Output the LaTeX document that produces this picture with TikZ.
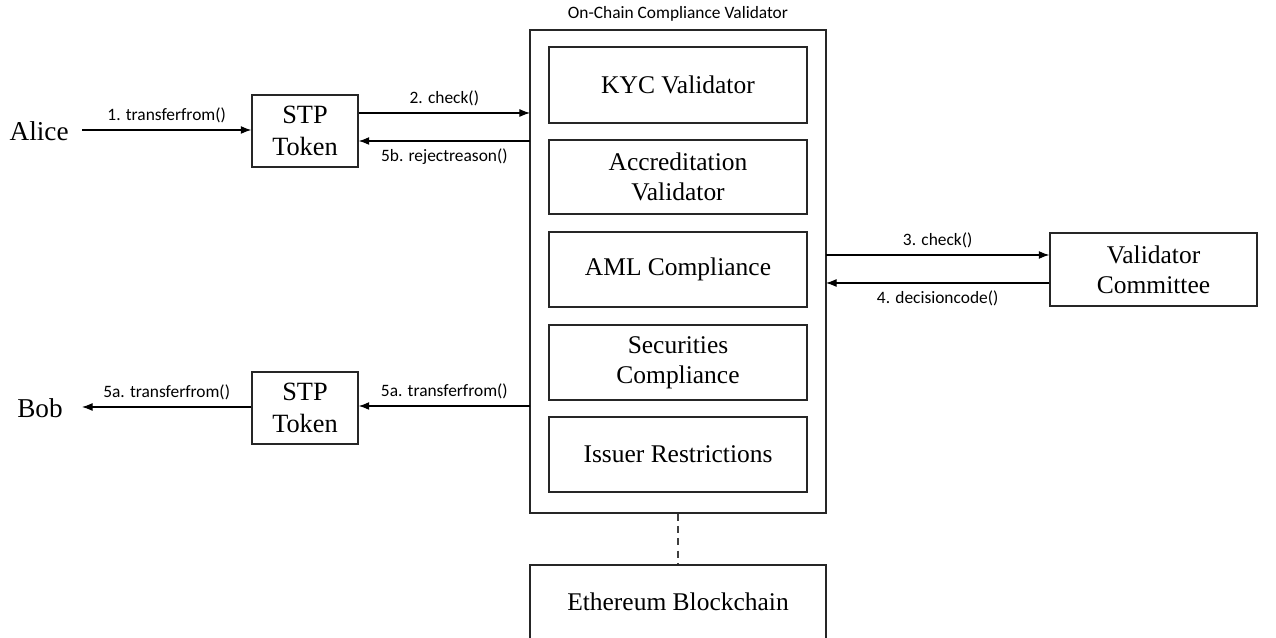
\documentclass[tikz,border=0pt]{standalone}
\usepackage{fontspec}
\setmainfont{Liberation Serif}
\newfontfamily\lblfont{Carlito}
\usetikzlibrary{arrows.meta}
\begin{document}
\begin{tikzpicture}[x=0.02cm,y=-0.02cm,
  box/.style={draw=black!85, line width=0.75pt, inner sep=0pt, align=center, font=\fontsize{14.5}{17}\selectfont},
  lbl/.style={font=\lblfont\fontsize{9.9}{11}\selectfont, inner sep=1pt},
  arr/.style={-{Latex[length=6pt,width=4.5pt]}, line width=0.6pt},
  big/.style={font=\fontsize{15.5}{18}\selectfont, inner sep=0pt}]
\useasboundingbox (0,0) rectangle (1276,638);
% outer validator
\node[box, minimum width=296*0.02cm, minimum height=483*0.02cm] (outer) at (678,271.5) {};
\node[lbl] (title) at (678,14) {On-Chain Compliance Validator};
\node[box, minimum width=258*0.02cm, minimum height=76*0.02cm] (kyc) at (678,85) {KYC Validator};
\node[box, minimum width=258*0.02cm, minimum height=74*0.02cm] (acc) at (678,177) {Accreditation\\Validator};
\node[box, minimum width=258*0.02cm, minimum height=75*0.02cm] (aml) at (678,269.5) {AML Compliance};
\node[box, minimum width=258*0.02cm, minimum height=75*0.02cm] (sec) at (678,362.5) {Securities\\Compliance};
\node[box, minimum width=258*0.02cm, minimum height=75*0.02cm] (iss) at (678,454.5) {Issuer Restrictions};
% ethereum
\node[box, minimum width=296*0.02cm, minimum height=80*0.02cm] (eth) at (678,605) {};
\node[font=\fontsize{14.5}{17}\selectfont] (ethtext) at (678,602) {Ethereum Blockchain};
\draw[dash pattern=on 4pt off 3pt, line width=0.6pt, black!75] (outer.south) -- (eth.north);
% STP tokens
\node[box, font=\fontsize{15}{18.5}\selectfont, minimum width=106*0.02cm, minimum height=72*0.02cm] (stp1) at (305,131) {STP\\Token};
\node[box, font=\fontsize{15}{18.5}\selectfont, minimum width=106*0.02cm, minimum height=72*0.02cm] (stp2) at (305,408) {STP\\Token};
% committee
\node[box, minimum width=207*0.02cm, minimum height=73*0.02cm] (vc) at (1153.5,269.5) {Validator\\Committee};
% people
\node[big, anchor=east] (alice) at (69,131) {Alice};
\node[big, anchor=east] (bob) at (63,408) {Bob};
% coordinates on outer box
\coordinate (o2) at (530,113);
\coordinate (o5b) at (530,141);
\coordinate (o5a) at (530,406);
\coordinate (o3) at (826,255);
\coordinate (o4) at (826,283);
\coordinate (a1) at (82,130);
\coordinate (b1) at (82,407);
% arrows
\draw[arr] (a1) -- (stp1.west |- a1) node[lbl, midway, above=3pt] {1. transferfrom()};
\draw[arr] (stp1.east |- o2) -- (o2) node[lbl, midway, above=3pt] {2. check()};
\draw[arr] (o5b) -- (stp1.east |- o5b) node[lbl, midway, below=3pt] {5b. rejectreason()};
\draw[arr] (o3) -- (vc.west |- o3) node[lbl, midway, above=3pt] {3. check()};
\draw[arr] (vc.west |- o4) -- (o4) node[lbl, midway, below=3pt] {4. decisioncode()};
\draw[arr] (o5a) -- (stp2.east |- o5a) node[lbl, midway, above=3pt] {5a. transferfrom()};
\draw[arr] (stp2.west |- b1) -- (b1) node[lbl, midway, above=3pt] {5a. transferfrom()};
\end{tikzpicture}
\end{document}
